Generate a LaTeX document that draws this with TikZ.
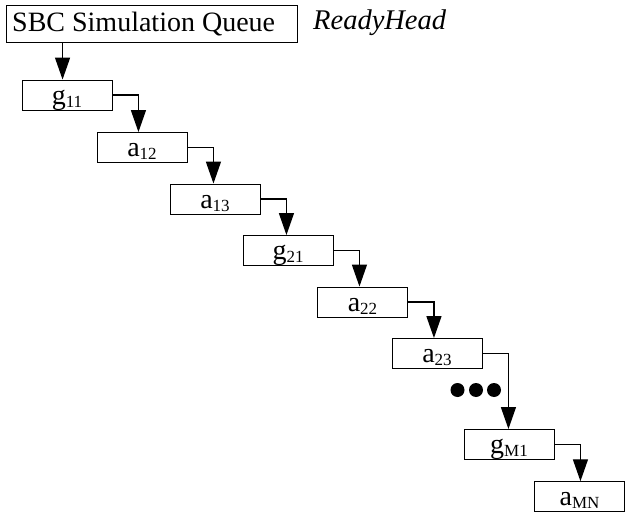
\documentclass[tikz,border=0pt]{standalone}
\usepackage{fontspec}
\setmainfont{Liberation Serif}
\usetikzlibrary{arrows.meta}
\newcommand\subsc[1]{\raisebox{-3pt}{\fontsize{17}{17}\selectfont #1}}
\begin{document}
\begin{tikzpicture}[x=1pt,y=-1pt,
 box/.style={draw, line width=0.9pt, minimum width=90pt, minimum height=30pt, inner sep=0pt, text height=21pt, text depth=3pt, font=\fontsize{28}{28}\selectfont},
 arr/.style={line width=1.4pt, -{Triangle[length=22pt,width=15pt]}},
 dotmark/.style={fill, circle, inner sep=0pt, minimum size=14pt}]
\useasboundingbox (0,0) rectangle (625,514);
\node[box, minimum width=291pt, minimum height=37pt, text height=0pt, text depth=0pt] (sbc) at (151.5,23.5) {};
\node[anchor=base west, inner sep=0pt, font=\fontsize{28}{28}\selectfont] (sbct) at (12,31.7) {SBC Simulation Queue};
\node[anchor=base west, inner sep=0pt, font=\fontsize{28.5}{28}\selectfont\itshape] (rh) at (313,29.5) {ReadyHead};
\node[box] (g11) at (67,95) {g\subsc{11}};
\node[box] (a12) at (142,147.5) {a\subsc{12}};
\node[box] (a13) at (215,199) {a\subsc{13}};
\node[box] (g21) at (288,250.5) {g\subsc{21}};
\node[box] (a22) at (362.5,302) {a\subsc{22}};
\node[box] (a23) at (437,353.5) {a\subsc{23}};
\node[box] (gM1) at (509,444.5) {g\subsc{M1}};
\node[box] (aMN) at (579.5,496.7) {a\subsc{MN}};
\coordinate (g11in) at ([xshift=41pt]g11.north west);
\draw[arr] (g11in |- sbc.south) -- (g11in);
\foreach \s/\t in {g11/a12, a12/a13, a13/g21, g21/a22, a22/a23, a23/gM1, gM1/aMN}{
  \coordinate (\s bend) at ([xshift=26pt]\s.east);
  \draw[arr] (\s.east) -- (\s bend) -- (\s bend |- \t.north);
}
\node[dotmark] (d1) at (457.5,390) {};
\node[dotmark] (d2) at (476,390) {};
\node[dotmark] (d3) at (494,390) {};
\end{tikzpicture}
\end{document}
